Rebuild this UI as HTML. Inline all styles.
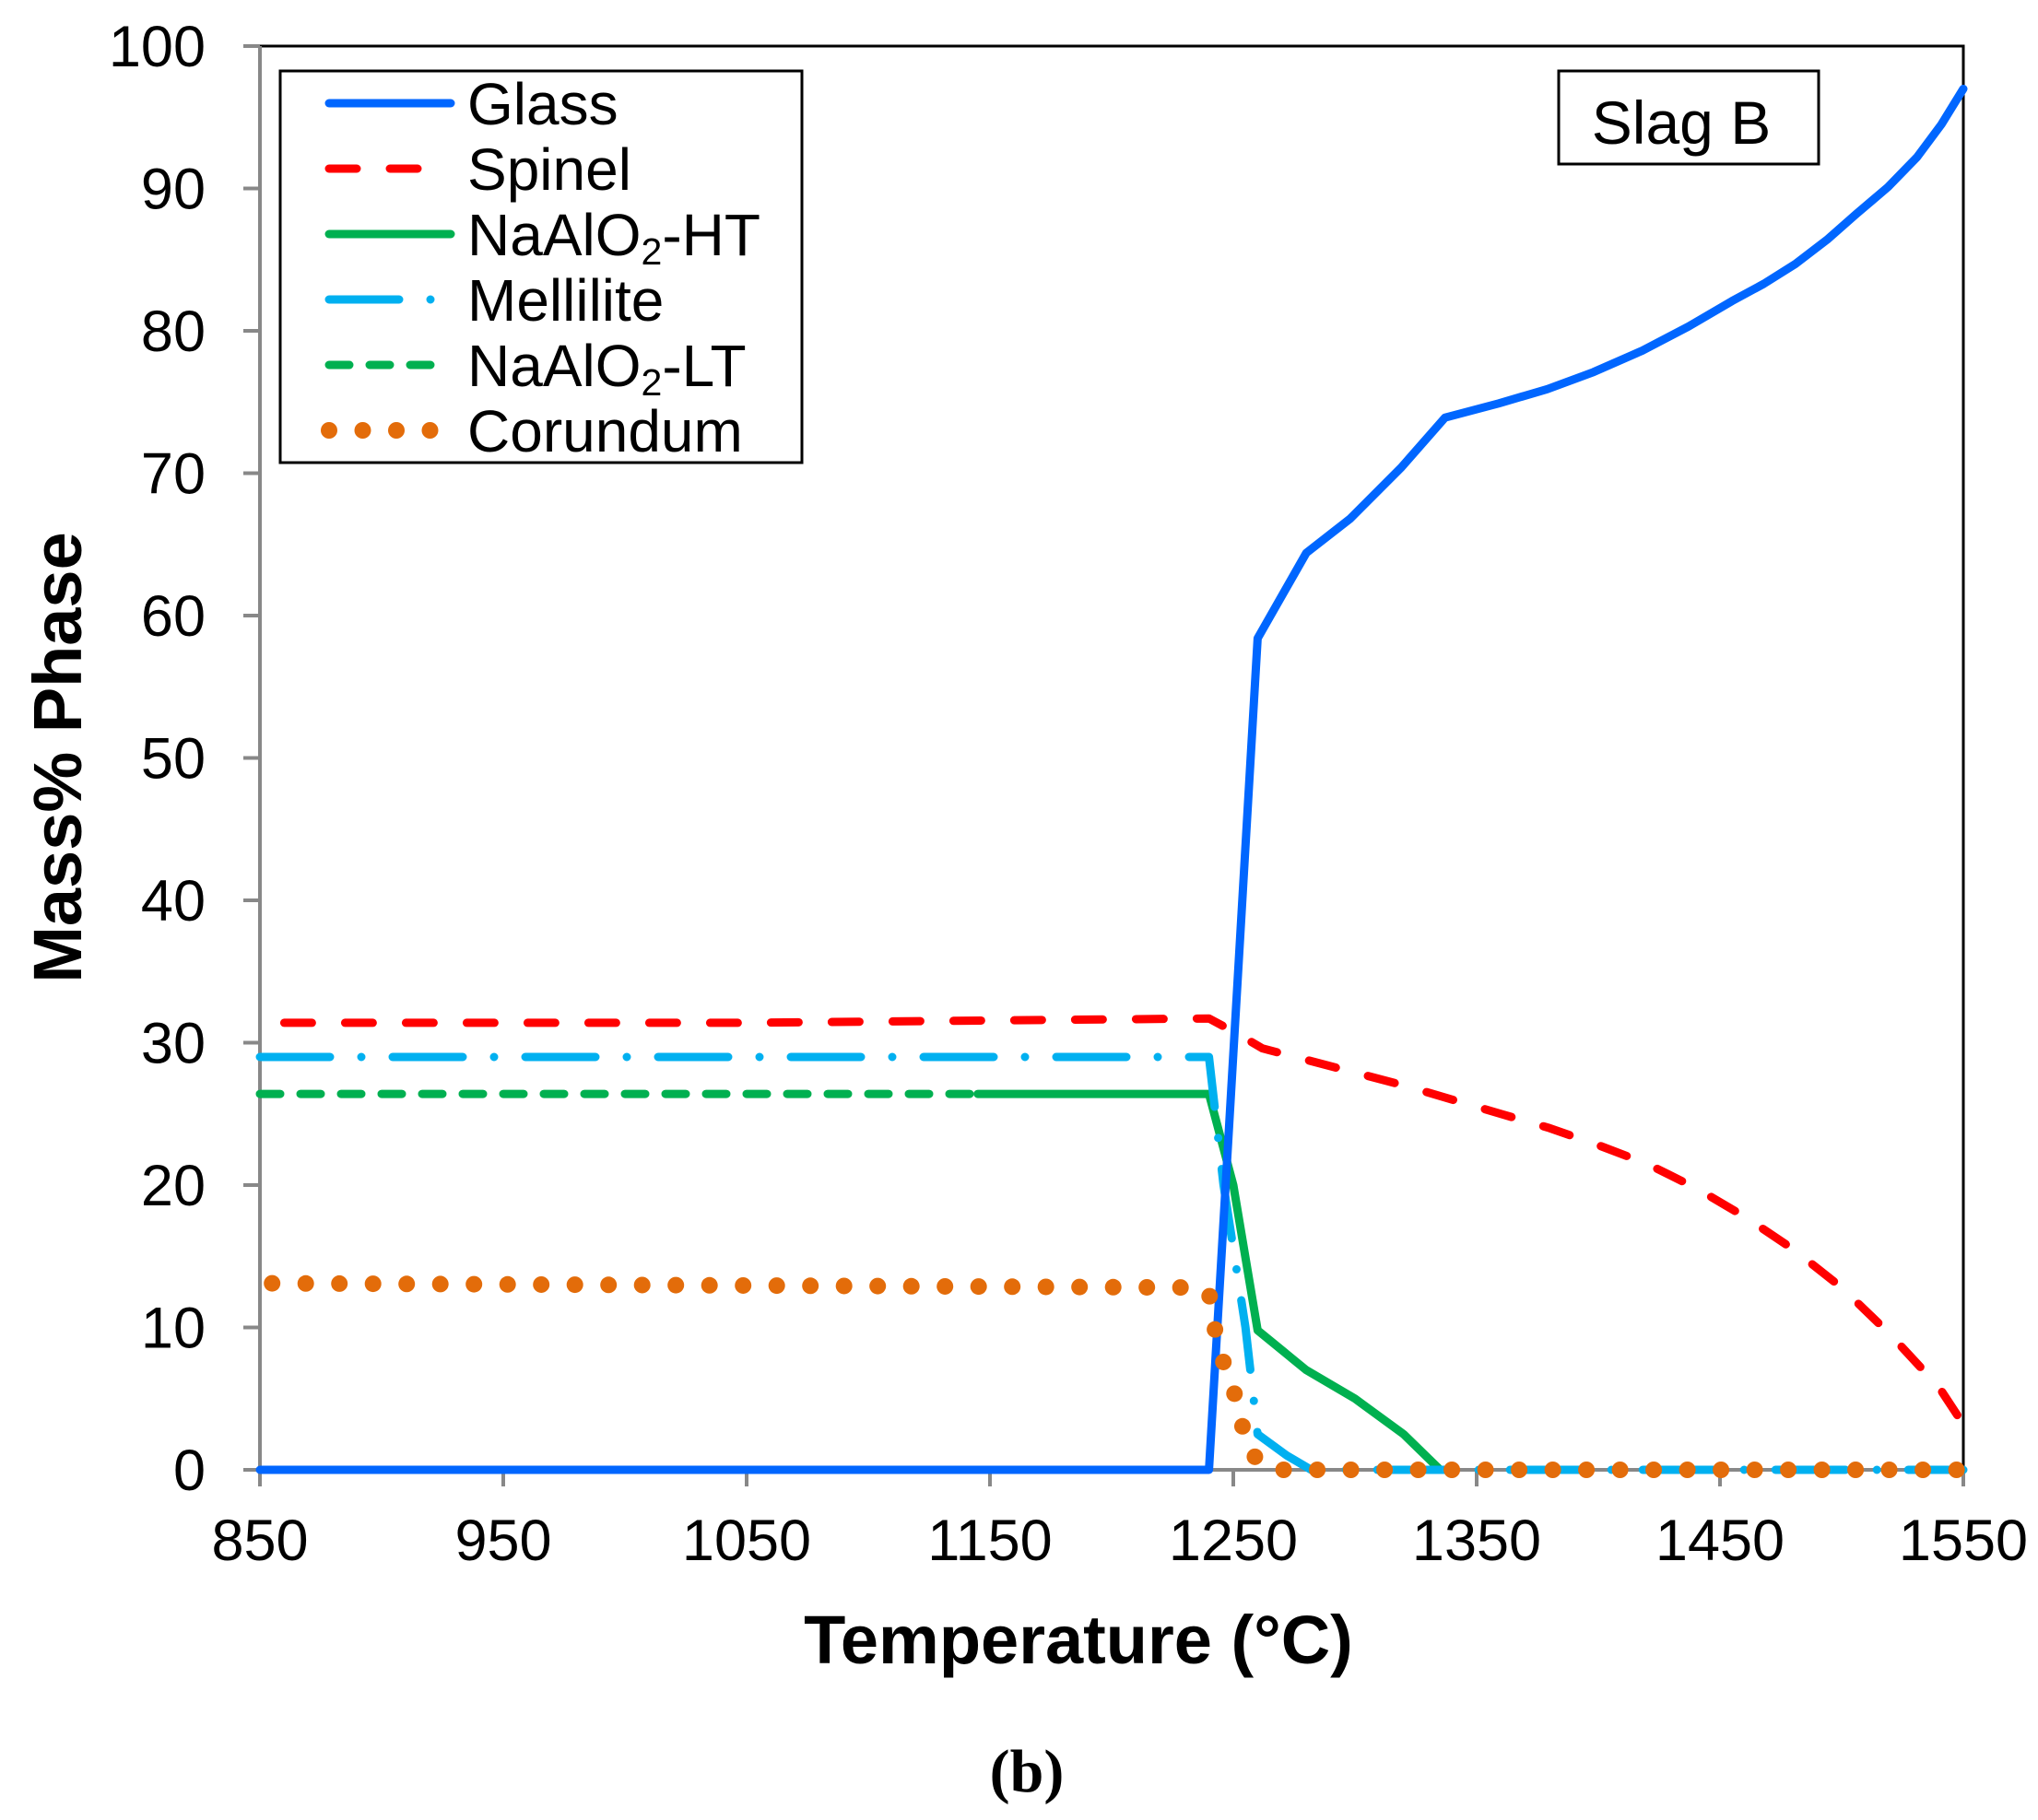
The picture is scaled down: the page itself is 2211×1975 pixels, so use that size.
<!DOCTYPE html>
<html><head><meta charset="utf-8"><style>
html,body{margin:0;padding:0;background:#fff;}
svg{display:block;}
text{font-family:"Liberation Sans",Arial,sans-serif;fill:#000;}
</style></head><body>
<svg id="chart" width="2211" height="1975" viewBox="0 0 2211 1975" xmlns="http://www.w3.org/2000/svg">
<rect width="2211" height="1975" fill="#fff"/>
<g id="axes"></g>
<g id="series"></g>
<g id="legend"></g>
</svg>
<script>
const xTicks = [850, 950, 1050, 1150, 1250, 1350, 1450, 1550];
const yTicks = [0, 10, 20, 30, 40, 50, 60, 70, 80, 90, 100];
const glassT = [850, 1240, 1260, 1280, 1298, 1319, 1337, 1359, 1379, 1398, 1418, 1437, 1455, 1468, 1481, 1494, 1506, 1519, 1531, 1541, 1550];
const glassV = [0, 0, 58.4, 64.4, 66.8, 70.4, 73.9, 74.9, 75.9, 77.1, 78.6, 80.3, 82.1, 83.3, 84.7, 86.4, 88.2, 90.1, 92.2, 94.5, 97.0];
const spinelT = [860, 1050, 1240, 1251, 1262, 1300, 1320, 1340, 1360, 1380, 1400, 1420, 1440, 1460, 1480, 1500, 1520, 1540, 1550];
const spinelV = [31.4, 31.4, 31.7, 30.7, 29.6, 27.9, 27.0, 26.0, 25.0, 24.0, 22.8, 21.5, 19.8, 17.8, 15.5, 12.8, 9.5, 5.8, 3.2];
const htT = [1145, 1240, 1250, 1260, 1280, 1300, 1320, 1335];
const htV = [26.4, 26.4, 20, 9.8, 7.0, 5.0, 2.5, 0];
const melT = [850, 1240, 1246, 1255, 1260, 1272, 1282, 1550];
const melV = [29, 29, 20, 10, 2.5, 1.0, 0, 0];
const ltT = [850, 1145];
const ltV = [26.4, 26.4];
const corT = [855, 1235, 1240, 1242, 1245, 1250, 1253, 1257, 1265, 1550];
const corV = [13.1, 12.8, 12.5, 10.2, 8.0, 5.7, 3.5, 1.2, 0, 0];

const NS = "http://www.w3.org/2000/svg";
const L = 282, R = 2130, T = 50, B = 1595;
const X = t => L + (t - 850) / 700 * (R - L);
const Y = v => B - v / 100 * (B - T);
function mk(tag, attrs, parent, txt) {
  const e = document.createElementNS(NS, tag);
  for (const k in attrs) e.setAttribute(k, attrs[k]);
  if (txt !== undefined) e.textContent = txt;
  parent.appendChild(e); return e;
}
const axes = document.getElementById('axes');
const series = document.getElementById('series');
const legend = document.getElementById('legend');

const frame = mk('rect', {x: L, y: T, width: R - L, height: B - T, fill: 'none', stroke: '#000', 'stroke-width': 3}, axes);


const yAxis = mk('line', {x1: L, y1: T, x2: L, y2: B + 12, stroke: '#888', 'stroke-width': 4}, axes);


const xAxis = mk('line', {x1: L - 16, y1: B, x2: R, y2: B, stroke: '#888', 'stroke-width': 4}, axes);



yTicks.forEach(v => {
  const tk = mk('line', {x1: L - 18, y1: Y(v), x2: L, y2: Y(v), stroke: '#888', 'stroke-width': 4}, axes);
  
  
  const lb = mk('text', {x: 223, y: Y(v) + 22, 'font-size': 63, 'text-anchor': 'end'}, axes, String(v));
  
  
});
xTicks.forEach(t => {
  const tk = mk('line', {x1: X(t), y1: B, x2: X(t), y2: B + 18, stroke: '#888', 'stroke-width': 4}, axes);
  
  
  const lb = mk('text', {x: X(t), y: 1693, 'font-size': 63, 'text-anchor': 'middle'}, axes, String(t));
  
  
});
const xt = mk('text', {x: 1170, y: 1805, 'font-size': 74, 'font-weight': 'bold', 'text-anchor': 'middle'}, axes, 'Temperature (°C)');


const yt = mk('text', {x: 0, y: 0, 'font-size': 74, 'font-weight': 'bold', 'text-anchor': 'middle', transform: 'translate(88,822) rotate(-90)'}, axes, 'Mass% Phase');


const cap = mk('text', {x: 1114, y: 1944, 'font-size': 66, 'font-weight': 'bold', 'text-anchor': 'middle', style: 'font-family:"Liberation Serif",serif'}, axes, '(b)');



const styles = {
  glass: {stroke: '#0066ff', dash: null},
  spinel: {stroke: '#ff0000', dash: '30 36'},
  ht: {stroke: '#00b050', dash: null},
  mel: {stroke: '#00b0f0', dash: '76 34 0 34'},
  lt: {stroke: '#00b050', dash: '22 22'},
  cor: {stroke: '#e36c0a', dash: '0 36.5', w: 18}
};
function drawSeries(ts, vs, st, name) {
  const d = ts.map((t, i) => (i ? 'L' : 'M') + X(t).toFixed(1) + ' ' + Y(vs[i]).toFixed(1)).join(' ');
  const p = mk('path', {d: d, fill: 'none', stroke: st.stroke, 'stroke-width': st.w || 9, 'stroke-linecap': 'round', 'stroke-linejoin': 'round'}, series);
  if (st.dash) p.setAttribute('stroke-dasharray', st.dash);
  
  
}
drawSeries(ltT, ltV, styles.lt, 'naalo2-lt-line');
drawSeries(htT, htV, styles.ht, 'naalo2-ht-line');
drawSeries(melT, melV, styles.mel, 'mellilite-line');
drawSeries(spinelT, spinelV, styles.spinel, 'spinel-line');
drawSeries(glassT, glassV, styles.glass, 'glass-line');
drawSeries(corT, corV, styles.cor, 'corundum-line');

const lbox = mk('rect', {x: 304, y: 77, width: 566, height: 425, fill: '#fff', stroke: '#000', 'stroke-width': 3}, legend);


const entries = [
  ['Glass', styles.glass, 'legend-glass'],
  ['Spinel', styles.spinel, 'legend-spinel'],
  ['NaAlO2-HT', styles.ht, 'legend-naalo2-ht'],
  ['Mellilite', styles.mel, 'legend-mellilite'],
  ['NaAlO2-LT', styles.lt, 'legend-naalo2-lt'],
  ['Corundum', styles.cor, 'legend-corundum']
];
entries.forEach((e, i) => {
  const cy = 112 + i * 71;
  const g = mk('g', {}, legend);
  
  
  const ln = mk('line', {x1: 357, y1: cy, x2: 489, y2: cy, stroke: e[1].stroke, 'stroke-width': e[1].w || 9, 'stroke-linecap': 'round'}, g);
  if (e[1].dash) ln.setAttribute('stroke-dasharray', e[1].dash);
  const tx = mk('text', {x: 507, y: cy + 23, 'font-size': 64}, g);
  if (e[0].indexOf('NaAlO2') === 0) {
    tx.appendChild(document.createTextNode('NaAlO'));
    mk('tspan', {'font-size': 41, dy: 10}, tx, '2');
    mk('tspan', {dy: -10}, tx, e[0].slice(6));
  } else tx.textContent = e[0];
});
const sb = mk('rect', {x: 1691, y: 77, width: 282, height: 101, fill: '#fff', stroke: '#000', 'stroke-width': 3}, legend);


const st = mk('text', {x: 1824, y: 156, 'font-size': 66, 'text-anchor': 'middle'}, legend, 'Slag B');


</script>
</body></html>
